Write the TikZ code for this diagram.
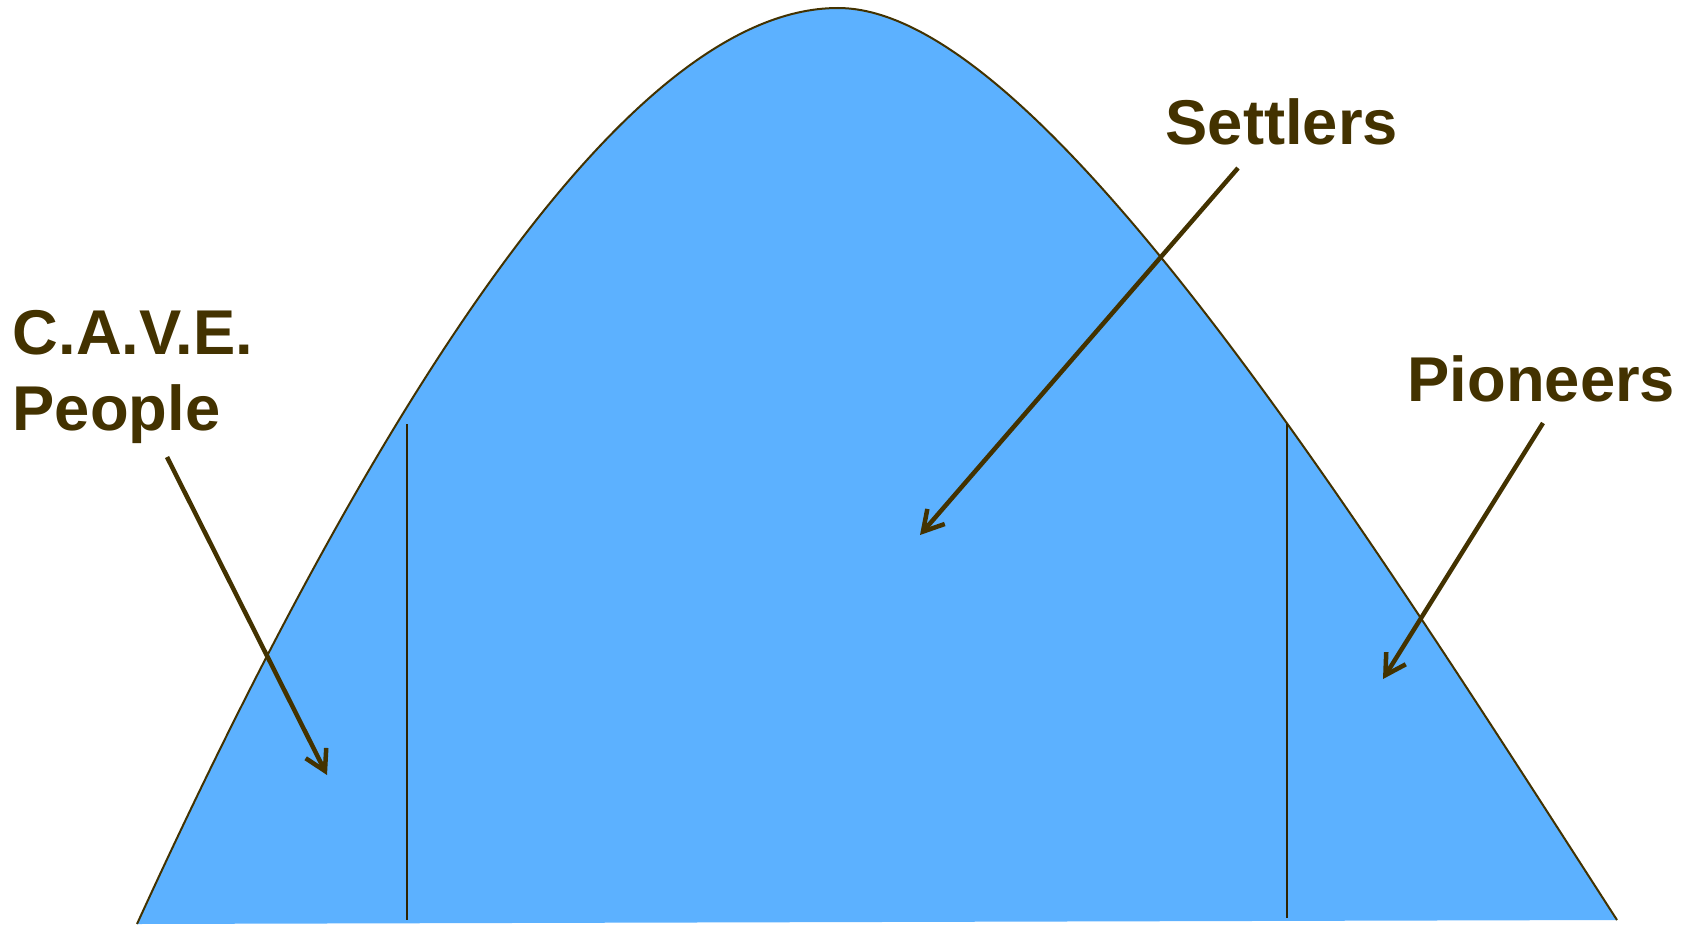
\documentclass[tikz,border=0pt]{standalone}
\usepackage{fontspec}
\setmainfont{Liberation Sans}
\usepackage{xcolor}
\usetikzlibrary{arrows.meta,positioning}
\definecolor{bcbrown}{RGB}{67,50,0}
\definecolor{bcblue}{RGB}{92,177,255}
\tikzset{
  bcfill/.style={fill=bcblue, draw=none},
  bccurve/.style={draw=bcbrown, line width=0.02cm},
  bcsplit/.style={draw=bcbrown!70!black, line width=0.015cm},
  bclabel/.style={text=bcbrown, font=\fontsize{18}{21.5}\selectfont\bfseries, inner sep=0pt, align=left},
  bcarrow/.style={-{Straight Barb[length=0.2cm,width=0.23cm]}, draw=bcbrown, line width=0.045cm}
}
\begin{document}
\begin{tikzpicture}[x=0.01cm,y=-0.01cm]
  \useasboundingbox (0,0) rectangle (1688,924);

  % the bell
  \fill[bcfill] (137,924) .. controls (359,439) and (618,8) .. (838,8)
    .. controls (1038,8) and (1357,517) .. (1617,920) -- cycle;
  \draw[bccurve] (137,924) .. controls (359,439) and (618,8) .. (838,8)
    .. controls (1038,8) and (1357,517) .. (1617,920);

  % splits
  \draw[bcsplit] (407,424) -- (407,920);
  \draw[bcsplit] (1287,424) -- (1287,918);

  % labels
  \node[bclabel, anchor=base west] (cave) at (12,430) {C.A.V.E.\\People};
  \node[bclabel, anchor=base west] (settlers) at (1165,144) {Settlers};
  \node[bclabel, anchor=base west] (pioneers) at (1407,401) {Pioneers};

  \coordinate (cavefrom) at (167,457);
  \coordinate (caveto) at (327,775);
  \coordinate (settlersfrom) at (1238,168);
  \coordinate (settlersto) at (920,535);
  \coordinate (pioneersfrom) at (1543,423);
  \coordinate (pioneersto) at (1383,679);

  \draw[bcarrow] (cavefrom) -- (caveto);
  \draw[bcarrow] (settlersfrom) -- (settlersto);
  \draw[bcarrow] (pioneersfrom) -- (pioneersto);
\end{tikzpicture}
\end{document}
